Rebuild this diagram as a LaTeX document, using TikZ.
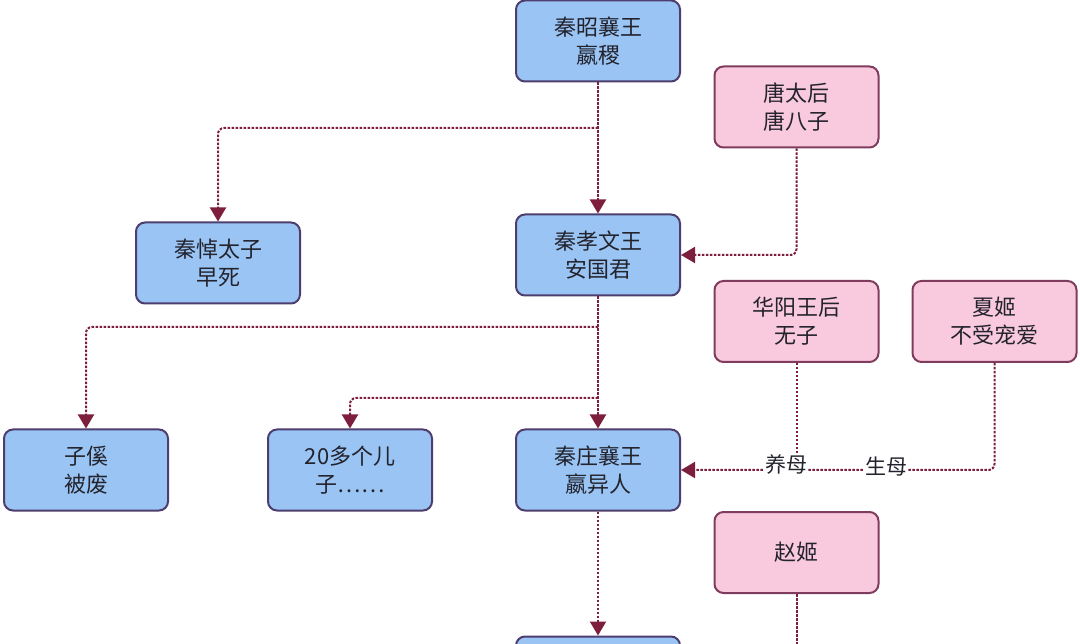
\documentclass[tikz,border=0pt]{standalone}
\usepackage{fontspec}
\setmainfont{Noto Sans CJK SC}
\usetikzlibrary{arrows.meta,calc}
\definecolor{bluefill}{RGB}{153,196,243}
\definecolor{blueedge}{RGB}{78,62,112}
\definecolor{pinkfill}{RGB}{249,202,221}
\definecolor{pinkedge}{RGB}{128,60,94}
\definecolor{conncol}{RGB}{125,30,60}
\definecolor{txt}{RGB}{35,35,45}
\begin{document}
\begin{tikzpicture}[x=1pt,y=-1pt,
  box/.style={rounded corners=9pt, line width=2pt, minimum width=164pt, minimum height=81pt,
    align=center, text=txt, font=\fontsize{22}{28}\selectfont, inner sep=2pt},
  bluebox/.style={box, fill=bluefill, draw=blueedge},
  pinkbox/.style={box, fill=pinkfill, draw=pinkedge},
  conn/.style={draw=conncol, line width=2pt, dash pattern=on 2.5pt off 1.5pt, rounded corners=6pt},
  arr/.style={conn, -{Triangle[width=16pt,length=14pt,fill=conncol]}},
  lbl/.style={fill=white, inner sep=1pt, text=txt, font=\fontsize{21}{24}\selectfont}
]
\clip (0,0) rectangle (1080,644);
\fill[white] (0,0) rectangle (1080,644);

\node[bluebox] (a) at (598,41) {秦昭襄王\\嬴稷};
\node[pinkbox] (t) at (796.5,107) {唐太后\\唐八子};
\node[bluebox] (b) at (218,263) {秦悼太子\\早死};
\node[bluebox] (d) at (598,255) {秦孝文王\\安国君};
\node[pinkbox] (h) at (796.5,321.5) {华阳王后\\无子};
\node[pinkbox] (x) at (994.5,321.5) {夏姬\\不受宠爱};
\node[bluebox] (z) at (86,470) {子傒\\被废};
\node[bluebox] (e) at (350,470) {20多个儿\\子……};
\node[bluebox] (f) at (598,470) {秦庄襄王\\嬴异人};
\node[pinkbox] (g) at (796.5,552.5) {赵姬};
\node[bluebox] (k) at (598,677) {};

\coordinate (j1) at (598,128);
\coordinate (j2) at (598,327);
\coordinate (j3) at (598,398);
\coordinate (gend) at (796.5,650);

% 秦昭襄王 branches
\draw[arr] (a.south) -- (d.north);
\draw[arr] (j1) -| (b.north);
% 唐太后 -> 秦孝文王
\draw[arr] (t.south) |- (d.east);
% 秦孝文王 branches
\draw[arr] (d.south) -- (f.north);
\draw[arr] (j2) -| (z.north);
\draw[arr] (j3) -| (e.north);
% mothers -> 秦庄襄王
\draw[arr] (x.south) |- (f.east);
\draw[conn] (h.south) -- (h.south |- f.east);
\node[lbl] at (786,464) {养母};
\node[lbl] at (886,467) {生母};
% 秦庄襄王 -> next
\draw[arr] (f.south) -- (k.north);
\draw[conn] (g.south) -- (gend);
\end{tikzpicture}
\end{document}
